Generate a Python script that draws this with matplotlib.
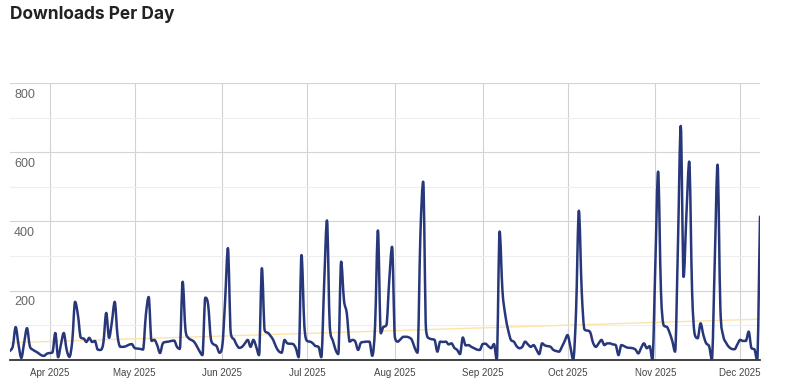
import numpy as np
import pandas as pd
import matplotlib
matplotlib.use("Agg")
import matplotlib.pyplot as plt
import matplotlib.dates as mdates
import matplotlib.transforms as mtransforms
from matplotlib.path import Path
from matplotlib.patches import PathPatch

# daily downloads, 2025-03-18 .. 2025-12-08
start_date = "2025-03-18"
downloads = [
    26, 40, 95, 45, 6, 50, 92, 40, 30, 25,
    20, 14, 12, 18, 20, 22, 78, 8, 45, 78,
    30, 9, 55, 168, 130, 65, 62, 52, 64, 52,
    55, 30, 29, 50, 136, 64, 110, 168, 70, 38,
    38, 40, 44, 46, 35, 33, 32, 30, 130, 182,
    55, 58, 43, 20, 48, 52, 53, 55, 56, 38,
    32, 226, 87, 64, 58, 53, 40, 25, 14, 180,
    160, 60, 45, 40, 21, 40, 170, 323, 78, 61,
    45, 35, 38, 48, 58, 38, 58, 38, 14, 265,
    85, 79, 70, 58, 38, 25, 21, 58, 48, 47,
    46, 34, 8, 303, 100, 55, 53, 48, 40, 38,
    8, 220, 403, 96, 58, 30, 17, 284, 173, 135,
    53, 58, 53, 29, 50, 52, 53, 53, 12, 100,
    374, 77, 96, 101, 230, 327, 65, 53, 60, 67,
    67, 65, 58, 35, 21, 360, 515, 87, 63, 60,
    58, 24, 53, 52, 53, 45, 48, 35, 29, 17,
    65, 42, 43, 38, 34, 30, 29, 46, 47, 40,
    34, 46, 0, 371, 200, 130, 87, 58, 53, 40,
    34, 38, 53, 45, 38, 43, 30, 17, 48, 42,
    40, 38, 29, 26, 24, 38, 55, 72, 38, 0,
    140, 431, 200, 88, 85, 80, 50, 38, 48, 58,
    43, 48, 48, 45, 43, 14, 43, 40, 36, 35,
    34, 30, 19, 35, 48, 34, 40, 0, 270, 544,
    200, 100, 96, 80, 55, 24, 330, 676, 240, 420,
    573, 200, 72, 63, 106, 72, 48, 40, 2, 280,
    564, 150, 70, 50, 38, 32, 31, 45, 58, 55,
    55, 82, 34, 31, 0, 414,
]
month_ticks = ["2025-04-01", "2025-05-01", "2025-06-01", "2025-07-01", "2025-08-01",
               "2025-09-01", "2025-10-01", "2025-11-01", "2025-12-01"]
y_major = [200, 400, 600, 800]
y_minor = [100, 300, 500, 700]

dates = pd.date_range(start_date, periods=len(downloads), freq="D")
values = np.array(downloads, dtype=float)
xs = mdates.date2num(dates)


def monotone_path(x, y):
    # cubic bezier segments with monotone (Fritsch-Carlson) tangents
    dx = np.diff(x)
    d = np.diff(y) / dx
    m = np.zeros_like(y)
    m[0], m[-1] = d[0], d[-1]
    for k in range(1, len(y) - 1):
        if d[k - 1] * d[k] > 0:
            m[k] = (d[k - 1] + d[k]) / 2
    for k in range(len(d)):
        if d[k] == 0:
            m[k] = m[k + 1] = 0
            continue
        a, b = m[k] / d[k], m[k + 1] / d[k]
        s = a * a + b * b
        if s > 9:
            tau = 3 / np.sqrt(s)
            m[k], m[k + 1] = tau * a * d[k], tau * b * d[k]
    verts = [(x[0], y[0])]
    codes = [Path.MOVETO]
    for k in range(len(d)):
        h = dx[k] / 3
        verts += [(x[k] + h, y[k] + m[k] * h), (x[k + 1] - h, y[k + 1] - m[k + 1] * h),
                  (x[k + 1], y[k + 1])]
        codes += [Path.CURVE4] * 3
    return Path(verts, codes)


# linear trend
t = np.arange(len(values))
slope, intercept = np.polyfit(t, values, 1)
trend = slope * t + intercept

fig = plt.figure(figsize=(8, 3.87), dpi=100)
ax = fig.add_axes([0.0125, 0.0698, 0.9375, 0.7157])

ax.plot(dates, trend, color="#fde3a6", lw=1.0, zorder=2)
ax.add_patch(PathPatch(monotone_path(xs, values), fill=False, edgecolor="#27377a",
                       lw=1.8, zorder=3, joinstyle="round", capstyle="round"))

ax.set_xlim(dates[0], dates[-1])
ax.set_ylim(0, 800)

ax.set_yticks(y_major)
ax.set_yticks(y_minor, minor=True)
ax.set_yticklabels([])
ax.tick_params(axis="y", which="both", length=0)
ax.grid(axis="y", which="major", color="#d4d4d4", lw=0.8)
ax.grid(axis="y", which="minor", color="#eeeeee", lw=0.8)

ticks = pd.to_datetime(month_ticks)
ax.set_xticks(ticks)
ax.set_xticklabels([d.strftime("%b %Y") for d in ticks], fontsize=7,
                   color="#444444", family="Liberation Sans")
ax.tick_params(axis="x", length=0, pad=6)
ax.grid(axis="x", color="#d2d2d2", lw=0.8)
ax.set_axisbelow(True)

for s in ["left", "right", "top"]:
    ax.spines[s].set_visible(False)
ax.spines["bottom"].set_color("#333333")
ax.spines["bottom"].set_linewidth(1.3)

trans = mtransforms.blended_transform_factory(ax.transAxes, ax.transData)
for v in y_major:
    ax.annotate(str(v), xy=(0, v), xycoords=trans, xytext=(3, -4),
                textcoords="offset points", ha="left", va="top",
                fontsize=9, color="#666666", family="Liberation Sans")

fig.text(0.0125, 0.951, "Downloads Per Day", fontsize=12.5, fontweight="bold",
         color="#222222", family="Inter", va="baseline", ha="left")

fig.savefig("out.png", dpi=100)
